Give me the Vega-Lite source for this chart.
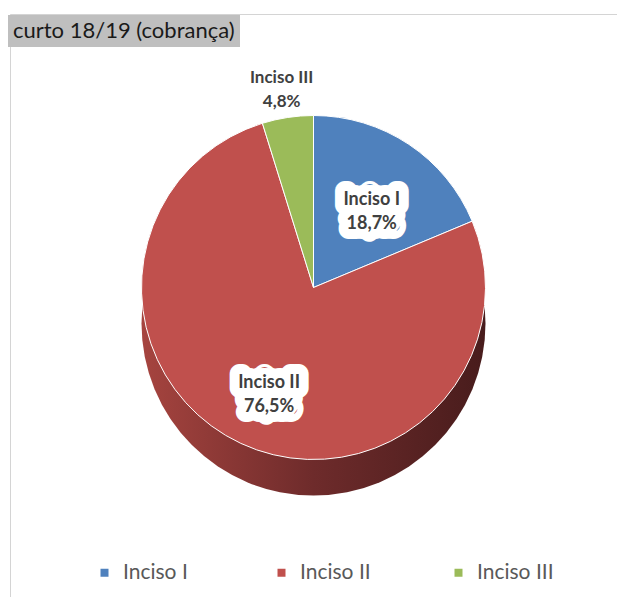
{
  "$schema": "https://vega.github.io/schema/vega-lite/v6.json",
  "width": 607,
  "height": 583,
  "autosize": {"type": "none"},
  "padding": {"left": 10, "top": 14, "right": 0, "bottom": 0},
  "background": "#ffffff",
  "view": {"stroke": "#d4d4d4", "strokeWidth": 1, "strokeDash": [607, 1190, 583]},
  "config": {
    "font": "Lato"
  },
  "datasets": {
    "slices": [
      {"cat": "Inciso I", "pct": 18.7, "label": "Inciso I\n18,7%"},
      {"cat": "Inciso II", "pct": 76.5, "label": "Inciso II\n76,5%"},
      {"cat": "Inciso III", "pct": 4.8, "label": "Inciso III\n4,8%"}
    ],
    "caption": [{"caption": "curto 18/19 (cobrança)"}]
  },
  "data": {"name": "slices"},
  "layer": [
    {
      "mark": {
        "type": "arc",
        "outerRadius": 172,
        "yOffset": 18,
        "color": {
          "gradient": "linear",
          "x1": 0, "x2": 1, "y1": 0, "y2": 0,
          "stops": [
            {"offset": 0, "color": "#A6443F"},
            {"offset": 0.5, "color": "#6E2B2B"},
            {"offset": 1, "color": "#481C1C"}
          ]
        }
      },
      "encoding": {
        "theta": {"aggregate": "sum", "field": "pct", "type": "quantitative"}
      }
    },
    {
      "mark": {"type": "arc", "outerRadius": 172, "yOffset": -18, "stroke": "#ffffff", "strokeWidth": 1},
      "encoding": {
        "theta": {"field": "pct", "type": "quantitative", "stack": true},
        "color": {
          "field": "cat",
          "type": "nominal",
          "scale": {"domain": ["Inciso I", "Inciso II", "Inciso III"], "range": ["#4F81BD", "#C0504D", "#9BBB59"]},
          "legend": {
            "orient": "none",
            "legendX": 84,
            "legendY": 548,
            "direction": "horizontal",
            "columns": 3,
            "title": null,
            "symbolType": "square",
            "symbolSize": 64,
            "symbolStrokeWidth": 0,
            "labelFont": "Lato",
            "labelFontSize": 21,
            "labelColor": "#595959",
            "labelOffset": 8,
            "gridAlign": "all",
            "columnPadding": 71
          }
        }
      }
    },
    {
      "mark": {"type": "text", "radius": 105, "yOffset": -18, "font": "Lato", "fontSize": 18, "fontWeight": "bold", "color": "#ffffff", "stroke": "#ffffff", "strokeWidth": 20, "strokeJoin": "round", "lineBreak": "\n", "lineHeight": 24},
      "encoding": {
        "theta": {"field": "pct", "type": "quantitative", "stack": true},
        "detail": {"field": "cat", "type": "nominal"},
        "text": {"condition": {"test": "datum.cat === 'Inciso III'", "value": ""}, "field": "label", "type": "nominal"}
      }
    },
    {
      "mark": {"type": "text", "radius": 105, "yOffset": -18, "font": "Lato", "fontSize": 18, "fontWeight": "bold", "color": "#404040", "lineBreak": "\n", "lineHeight": 24},
      "encoding": {
        "theta": {"field": "pct", "type": "quantitative", "stack": true},
        "detail": {"field": "cat", "type": "nominal"},
        "text": {"condition": {"test": "datum.cat === 'Inciso III'", "value": ""}, "field": "label", "type": "nominal"}
      }
    },
    {
      "mark": {"type": "text", "radius": 212, "yOffset": -18, "font": "Lato", "fontSize": 17, "fontWeight": "bold", "color": "#404040", "lineBreak": "\n", "lineHeight": 24},
      "encoding": {
        "theta": {"field": "pct", "type": "quantitative", "stack": true},
        "detail": {"field": "cat", "type": "nominal"},
        "text": {"condition": {"test": "datum.cat !== 'Inciso III'", "value": ""}, "field": "label", "type": "nominal"}
      }
    },
    {
      "data": {"name": "caption"},
      "mark": {"type": "point", "opacity": 0},
      "encoding": {
        "shape": {
          "field": "caption",
          "type": "nominal",
          "legend": {
            "orient": "none",
            "legendX": -2,
            "legendY": 1,
            "title": null,
            "fillColor": "#bfbfbf",
            "padding": 5,
            "symbolSize": 0,
            "symbolOpacity": 0,
            "symbolStrokeWidth": 0,
            "labelOffset": -22,
            "labelFont": "Lato",
            "labelFontSize": 22,
            "labelColor": "#1a1a1a",
            "labelLimit": 0
          }
        }
      }
    }
  ]
}
